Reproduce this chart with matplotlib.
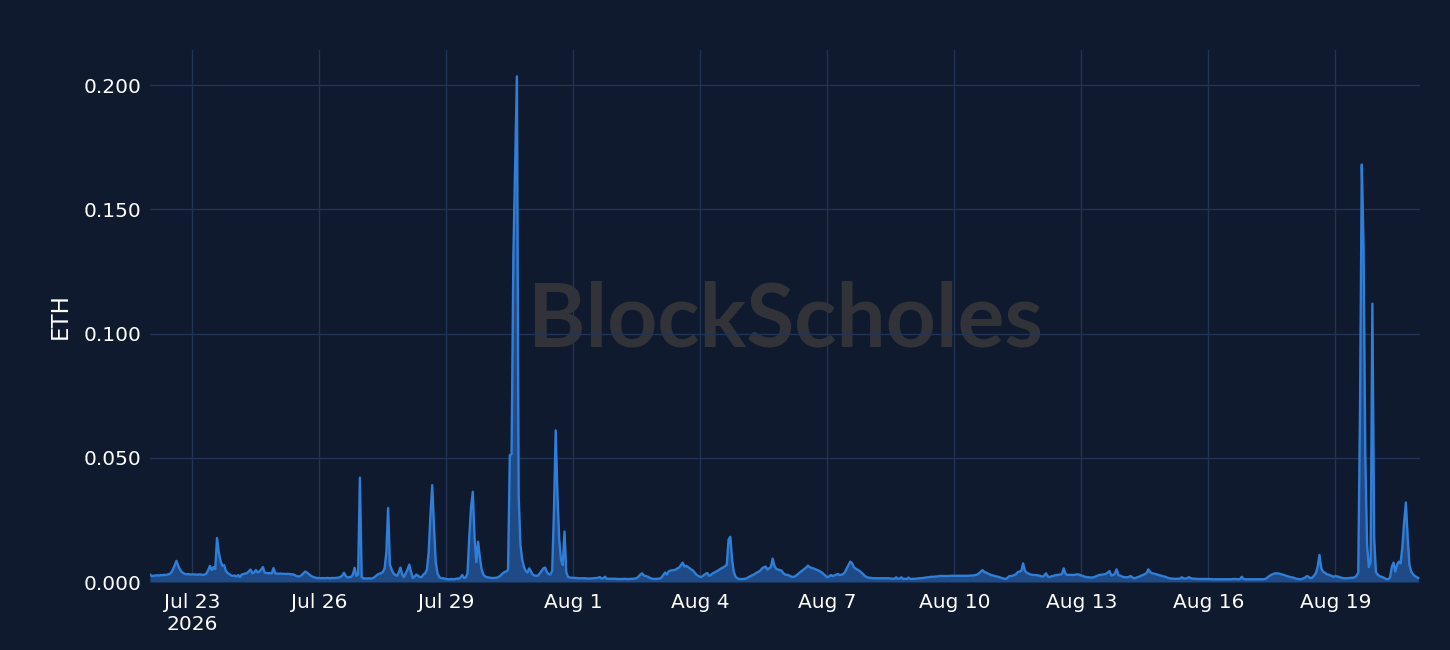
import matplotlib
matplotlib.use("Agg")
import matplotlib.pyplot as plt
import numpy as np
import pandas as pd

# hourly values in milli-ETH, one row per day
jul_22_31 = [
    [3.0, 2.4, 2.5, 2.6, 2.7, 2.6, 2.8, 2.7, 2.9, 2.8, 3.0, 3.2, 3.8, 5.0, 6.8, 8.5, 6.5, 5.0, 4.0, 3.5, 3.2, 3.1, 3.2, 3.0],
    [3.1, 3.0, 3.0, 2.9, 3.1, 3.0, 2.8, 3.0, 3.4, 4.8, 6.5, 4.8, 6.0, 5.2, 17.7, 12.0, 8.5, 6.5, 6.8, 4.5, 3.6, 3.2, 2.6, 2.5],
    [2.6, 2.2, 2.8, 2.0, 3.0, 3.2, 3.4, 3.6, 4.3, 5.0, 3.5, 3.8, 4.8, 3.9, 4.2, 5.0, 6.0, 3.8, 3.6, 3.5, 3.6, 3.5, 5.6, 3.5],
    [3.4, 3.3, 3.4, 3.3, 3.3, 3.2, 3.3, 3.2, 3.1, 3.1, 2.8, 2.4, 2.2, 2.3, 2.8, 3.5, 4.2, 3.8, 3.2, 2.6, 2.2, 1.9, 1.7, 1.6],
    [1.6, 1.5, 1.6, 1.5, 1.6, 1.6, 1.5, 1.6, 1.6, 1.6, 1.7, 1.8, 2.0, 2.6, 3.7, 2.4, 1.8, 2.0, 2.0, 3.0, 5.7, 2.5, 3.0, 42.0],
    [2.0, 1.5, 1.4, 1.4, 1.5, 1.4, 1.5, 1.8, 2.4, 3.0, 3.3, 3.6, 4.0, 5.5, 12.0, 29.8, 7.0, 5.0, 3.5, 2.8, 2.5, 3.8, 5.8, 3.0],
    [2.0, 3.5, 5.0, 7.0, 4.0, 1.6, 2.2, 3.0, 2.5, 2.0, 2.0, 3.0, 3.5, 5.0, 12.0, 27.0, 39.0, 22.0, 8.0, 3.5, 2.0, 1.6, 1.5, 1.4],
    [1.2, 1.1, 1.1, 1.2, 1.1, 1.2, 1.4, 1.3, 1.8, 2.8, 1.6, 1.8, 3.5, 18.0, 30.0, 36.3, 18.0, 8.0, 16.2, 10.0, 5.0, 3.0, 2.2, 2.0],
    [1.8, 1.7, 1.6, 1.6, 1.7, 1.8, 2.2, 2.8, 3.5, 4.0, 4.2, 5.0, 51.0, 51.5, 131.0, 168.0, 203.5, 35.0, 15.0, 9.0, 6.0, 4.5, 3.8, 5.5],
    [4.2, 3.0, 2.6, 2.5, 2.6, 3.5, 4.5, 5.5, 5.8, 4.0, 3.2, 3.0, 4.5, 28.0, 61.0, 35.0, 17.0, 9.0, 6.8, 20.3, 4.0, 2.0, 1.8, 1.7],
]
aug_01_10 = [
    [1.7, 1.6, 1.6, 1.5, 1.5, 1.5, 1.5, 1.5, 1.4, 1.4, 1.4, 1.5, 1.5, 1.6, 1.7, 2.0, 1.4, 1.5, 2.1, 1.3, 1.3, 1.3, 1.3, 1.3],
    [1.3, 1.2, 1.2, 1.2, 1.2, 1.3, 1.2, 1.2, 1.2, 1.3, 1.3, 1.4, 1.6, 2.2, 3.0, 3.5, 2.6, 2.4, 2.2, 1.8, 1.5, 1.3, 1.2, 1.3],
    [1.3, 1.4, 1.8, 2.8, 3.8, 3.0, 4.2, 4.6, 4.7, 4.8, 5.0, 5.5, 5.8, 6.8, 7.8, 6.2, 6.5, 6.0, 5.5, 5.0, 4.5, 3.6, 2.8, 2.4],
    [2.0, 2.2, 2.8, 3.3, 3.6, 2.5, 2.8, 3.5, 3.8, 4.2, 4.6, 5.1, 5.5, 5.9, 6.3, 7.0, 17.0, 18.2, 9.0, 4.0, 2.1, 1.5, 1.2, 1.2],
    [1.2, 1.3, 1.4, 1.8, 2.2, 2.6, 2.9, 3.3, 3.8, 4.1, 4.6, 5.5, 5.9, 6.2, 5.0, 5.5, 6.0, 9.4, 6.5, 5.3, 5.0, 4.8, 4.6, 3.6],
    [3.0, 2.9, 2.8, 2.3, 2.1, 2.1, 2.4, 3.0, 3.6, 4.2, 4.7, 5.3, 5.8, 6.6, 6.0, 5.7, 5.5, 5.2, 4.9, 4.6, 4.2, 3.8, 3.1, 2.5],
    [1.9, 2.2, 2.8, 2.4, 2.6, 3.0, 3.2, 2.8, 2.9, 3.2, 4.0, 5.5, 6.8, 8.2, 7.6, 6.0, 5.4, 5.0, 4.6, 4.0, 3.4, 2.6, 2.1, 1.8],
    [1.7, 1.6, 1.5, 1.5, 1.5, 1.5, 1.5, 1.5, 1.5, 1.5, 1.5, 1.5, 1.4, 1.3, 1.3, 1.9, 1.2, 1.4, 1.9, 1.2, 1.3, 1.2, 1.8, 1.2],
    [1.2, 1.3, 1.3, 1.4, 1.5, 1.5, 1.6, 1.7, 1.8, 1.9, 2.0, 2.1, 2.1, 2.2, 2.2, 2.3, 2.5, 2.4, 2.4, 2.4, 2.4, 2.4, 2.5, 2.5],
    [2.5, 2.5, 2.5, 2.5, 2.5, 2.5, 2.5, 2.5, 2.5, 2.6, 2.6, 2.7, 2.8, 3.0, 3.5, 4.2, 4.8, 4.0, 3.8, 3.4, 3.1, 2.8, 2.6, 2.4],
]
aug_11_20 = [
    [2.2, 2.1, 1.8, 1.6, 1.4, 1.2, 1.6, 2.3, 2.4, 2.5, 2.8, 3.2, 4.0, 4.2, 4.5, 7.5, 4.5, 3.8, 3.4, 3.1, 2.9, 2.8, 2.8, 2.7],
    [2.6, 2.4, 2.1, 2.6, 3.5, 2.2, 2.0, 2.3, 2.4, 2.7, 2.8, 2.9, 3.0, 3.2, 5.5, 3.4, 2.8, 2.9, 2.9, 2.8, 2.9, 3.0, 3.1, 2.9],
    [2.6, 2.4, 2.1, 2.0, 1.9, 1.8, 1.8, 1.9, 2.2, 2.5, 2.8, 2.9, 3.0, 3.1, 3.3, 3.8, 4.4, 2.6, 2.8, 3.4, 5.1, 2.8, 2.6, 2.2],
    [2.0, 1.9, 1.9, 2.1, 2.4, 1.8, 1.5, 1.7, 2.0, 2.2, 2.6, 2.8, 3.2, 3.6, 5.1, 4.0, 3.6, 3.4, 3.2, 3.0, 2.8, 2.6, 2.4, 2.2],
    [2.0, 1.7, 1.5, 1.4, 1.3, 1.3, 1.3, 1.3, 1.4, 1.9, 1.4, 1.4, 1.5, 2.0, 1.5, 1.4, 1.3, 1.3, 1.2, 1.2, 1.2, 1.2, 1.2, 1.2],
    [1.2, 1.2, 1.1, 1.1, 1.1, 1.1, 1.1, 1.1, 1.1, 1.1, 1.1, 1.1, 1.1, 1.1, 1.2, 1.2, 1.2, 1.1, 1.2, 2.1, 1.2, 1.1, 1.1, 1.1],
    [1.1, 1.1, 1.1, 1.1, 1.1, 1.1, 1.1, 1.1, 1.2, 1.5, 2.1, 2.6, 3.0, 3.3, 3.5, 3.5, 3.4, 3.2, 3.0, 2.8, 2.5, 2.3, 2.1, 1.9],
    [1.8, 1.5, 1.3, 1.2, 1.1, 1.2, 1.5, 1.9, 2.4, 2.0, 1.5, 1.8, 2.6, 3.6, 6.2, 10.9, 5.5, 4.2, 3.8, 3.2, 3.0, 2.7, 2.4, 2.1],
    [2.4, 2.2, 2.1, 1.8, 1.6, 1.5, 1.5, 1.5, 1.6, 1.7, 1.7, 1.9, 2.5, 3.8, 70.0, 168.0, 135.0, 50.0, 15.0, 6.0, 8.0, 112.0, 18.0, 4.0],
    [3.0, 2.4, 2.1, 1.9, 1.5, 1.2, 1.1, 1.8, 6.0, 7.8, 4.2, 7.0, 8.2, 7.5, 14.0, 24.0, 32.0, 18.0, 7.0, 4.2, 3.2, 2.4, 2.0, 1.6],
]

tick_dates = ["2026-07-23", "2026-07-26", "2026-07-29", "2026-08-01", "2026-08-04",
              "2026-08-07", "2026-08-10", "2026-08-13", "2026-08-16", "2026-08-19"]
tick_labels = ["Jul 23\n2026", "Jul 26", "Jul 29", "Aug 1", "Aug 4",
               "Aug 7", "Aug 10", "Aug 13", "Aug 16", "Aug 19"]
y_ticks = [0.0, 0.05, 0.10, 0.15, 0.20]

BG = "#101a2e"
GRID = "#223356"
LINE = "#2f7fd8"
FILL = "#1f4a85"

eth = np.concatenate([np.ravel(jul_22_31), np.ravel(aug_01_10), np.ravel(aug_11_20)]) / 1000.0
times = pd.date_range("2026-07-22 00:00", periods=len(eth), freq="h")

plt.rcParams["font.family"] = ["DejaVu Sans"]
fig = plt.figure(figsize=(14.5, 6.5), dpi=100, facecolor=BG)
ax = fig.add_axes([150 / 1450, 1 - 582 / 650, 1270 / 1450, 532 / 650])
ax.set_facecolor(BG)

# watermark
ax.text(0.5, 0.49, "BlockScholes", transform=ax.transAxes, ha="center", va="center",
        fontsize=63, color="#313339", family="Lato", weight="bold", zorder=0)

ax.fill_between(times, eth, 0, color=FILL, linewidth=0, zorder=2)
ax.plot(times, eth, color=LINE, linewidth=1.7, zorder=3)

ax.set_xlim(pd.Timestamp("2026-07-22 00:00"), pd.Timestamp("2026-08-21 00:00"))
ax.set_ylim(0, 0.2141)
ax.set_xticks(pd.to_datetime(tick_dates))
ax.set_xticklabels(tick_labels)
ax.set_yticks(y_ticks)
ax.set_yticklabels([f"{v:.3f}" for v in y_ticks])

ax.grid(True, color=GRID, linewidth=1, zorder=1)
ax.set_axisbelow(True)
for s in ax.spines.values():
    s.set_visible(False)
ax.tick_params(length=0, colors="white", labelsize=14.5)
ax.tick_params(axis="x", pad=8)
ax.tick_params(axis="y", pad=6)
ax.set_ylabel("ETH", color="white", fontsize=16.5, labelpad=9)

fig.savefig("out.png", dpi=100, facecolor=BG)
